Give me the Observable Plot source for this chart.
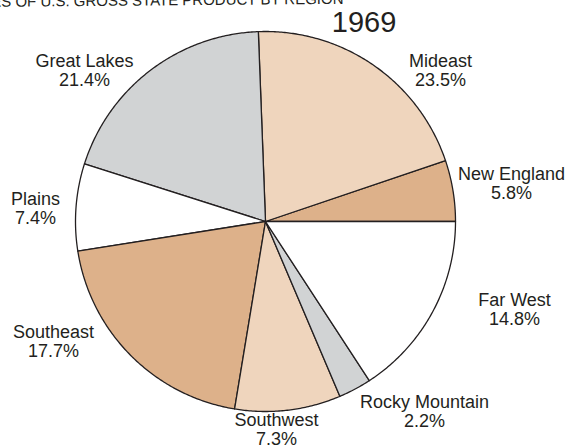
<!DOCTYPE html>
<html><head><meta charset="utf-8">
<script src="https://cdn.jsdelivr.net/npm/d3@7"></script>
<script src="https://cdn.jsdelivr.net/npm/@observablehq/plot@0.6"></script>
<style>body{margin:0;background:#fff}</style>
</head><body><div id="chart"></div>
<script>
// ---- data ----
const regions = ["New England","Mideast","Great Lakes","Plains","Southeast","Southwest","Rocky Mountain","Far West"];
const shares = [5.8, 23.5, 21.4, 7.4, 17.7, 7.3, 2.2, 14.8];          // printed shares (%)
const drawnShares = [5.2, 20.4, 19.5, 7.4, 19.9, 9.0, 2.8, 15.8];     // arc sizes as drawn in the picture (%)
const fills = ["#ddb18a","#efd5bd","#d1d3d4","#ffffff","#ddb18a","#efd5bd","#d1d3d4","#ffffff"];
const year = "1969";
const title = "SHARES OF U.S. GROSS STATE PRODUCT BY REGION";

// ---- layout ----
const W = 568, H = 448, R = 190, cx = 265, cy = 221;
const labelOffsets = [[246,-37.6],[175,-150.6],[-181,-150.6],[-230,-12.6],[-212,120.4],[11,208.2],[159,190.4],[249,88.4]];
const font = "'Liberation Sans', Arial, Helvetica, sans-serif";
const ink = "#231f20";

const total = d3.sum(drawnShares);
const slicePts = [];
let cum = 0;
regions.forEach((r, i) => {
  const a0 = cum / total * 2 * Math.PI;
  cum += drawnShares[i];
  const a1 = cum / total * 2 * Math.PI;
  slicePts.push({region: r, x: 0, y: 0, fill: fills[i]});
  const n = Math.max(2, Math.ceil((a1 - a0) / (Math.PI / 360)));
  for (let k = 0; k <= n; k++) {
    const a = a0 + (a1 - a0) * k / n;
    slicePts.push({region: r, x: Math.cos(a), y: Math.sin(a), fill: fills[i]});
  }
  slicePts.push({region: r, x: 0, y: 0, fill: fills[i]});
});

const labels = regions.map((r, i) => ({
  text: `${r}\n${shares[i].toFixed(1)}%`,
  x: labelOffsets[i][0] / R,
  y: -labelOffsets[i][1] / R
}));

const chart = Plot.plot({
  width: W, height: H,
  marginLeft: cx - R, marginRight: W - (cx + R),
  marginTop: cy - R, marginBottom: H - (cy + R),
  x: {domain: [-1, 1], axis: null},
  y: {domain: [-1, 1], axis: null},
  color: {type: "identity"},
  style: {background: "white", overflow: "visible"},
  marks: [
    Plot.line(slicePts, {x: "x", y: "y", z: "region", fill: "fill", stroke: ink, strokeWidth: 1.3, strokeLinejoin: "round", strokeMiterlimit: 4}),
    Plot.text(labels, {x: "x", y: "y", text: "text", fontSize: 18, lineHeight: 1.056, fill: ink, fontFamily: font}),
    Plot.text([year], {x: (363.5 - cx) / R, y: (cy - 31) / R, text: d => d, fontSize: 29, lineAnchor: "bottom", fill: ink, fontFamily: font}),
    Plot.text([title], {x: (343 - cx) / R, y: (cy - 3.3) / R, text: d => d, fontSize: 15, textAnchor: "end", lineAnchor: "bottom", rotate: -0.5, fill: ink, fontFamily: font})
  ]
});
document.getElementById("chart").appendChild(chart);
</script>
</body></html>
